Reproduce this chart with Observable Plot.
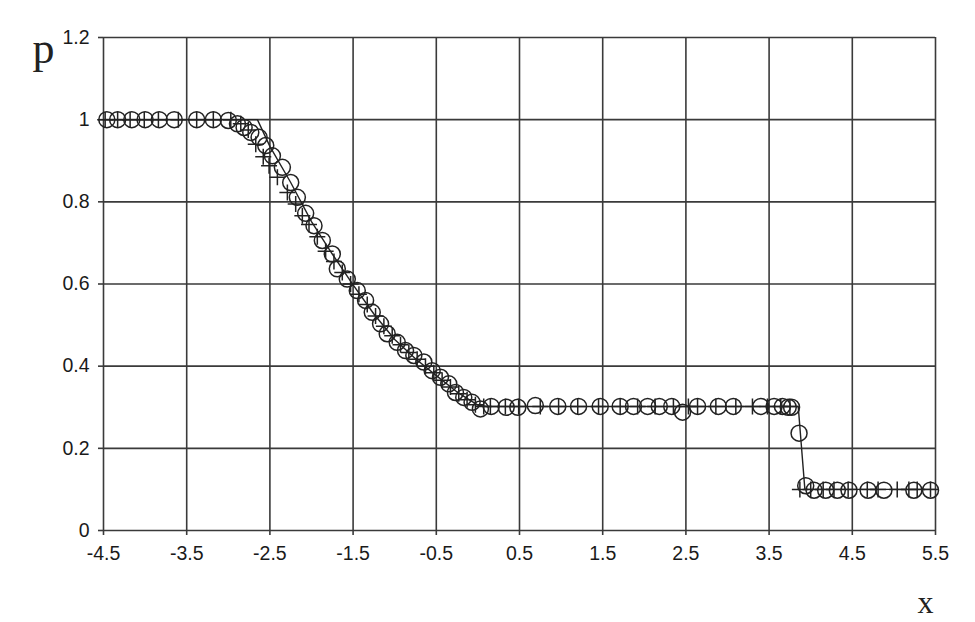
<!DOCTYPE html>
<html><head><meta charset="utf-8">
<script src="https://cdn.jsdelivr.net/npm/d3@7"></script>
<script src="https://cdn.jsdelivr.net/npm/@observablehq/plot@0.6"></script>
<style>
body{margin:0;background:#fff}
g[aria-label="x-axis tick label"], g[aria-label="y-axis tick label"],
g[aria-label="x-axis tick label"] text, g[aria-label="y-axis tick label"] text {
  font-size: 19.5px !important;
  font-family: 'Liberation Sans', Arial, sans-serif !important;
}
</style>
</head><body><div id="chart"></div>
<script>
const xTicks = [-4.5, -3.5, -2.5, -1.5, -0.5, 0.5, 1.5, 2.5, 3.5, 4.5, 5.5];
const yTicks = [0, 0.2, 0.4, 0.6, 0.8, 1, 1.2];

// exact solution (solid line)
const exactX = [-4.5, -2.65, -2.5, -2.25, -2.0, -1.75, -1.5, -1.25, -1.0, -0.75, -0.5, -0.25, 0.0, 0.1, 3.85, 3.93, 5.5];
const exactP = [1, 1, 0.935, 0.847, 0.752, 0.673, 0.598, 0.527, 0.465, 0.418, 0.377, 0.337, 0.305, 0.302, 0.302, 0.1, 0.1];

// numerical solution (circles)
const circleX = [-4.46, -4.33, -4.16, -4.0, -3.83, -3.65, -3.38, -3.18, -3.0, -2.89, -2.81, -2.73, -2.63, -2.55, -2.47, -2.35, -2.25, -2.17, -2.07, -1.97, -1.87, -1.75, -1.69, -1.57, -1.45, -1.35, -1.27, -1.17, -1.09, -0.97, -0.87, -0.77, -0.65, -0.55, -0.45, -0.35, -0.27, -0.17, -0.07, 0.03, 0.16, 0.34, 0.48, 0.69, 0.96, 1.21, 1.47, 1.71, 1.87, 2.04, 2.18, 2.33, 2.46, 2.64, 2.89, 3.07, 3.40, 3.56, 3.66, 3.73, 3.77, 3.86, 3.94, 4.04, 4.18, 4.32, 4.46, 4.69, 4.88, 5.24, 5.44];
const circleP = [1, 1, 1, 1, 1, 1, 1, 1, 0.998, 0.99, 0.981, 0.969, 0.957, 0.937, 0.912, 0.884, 0.847, 0.811, 0.772, 0.742, 0.706, 0.673, 0.637, 0.612, 0.584, 0.56, 0.531, 0.503, 0.479, 0.458, 0.438, 0.426, 0.41, 0.389, 0.373, 0.357, 0.336, 0.324, 0.312, 0.296, 0.302, 0.3, 0.3, 0.304, 0.302, 0.302, 0.302, 0.302, 0.302, 0.302, 0.302, 0.302, 0.288, 0.302, 0.302, 0.302, 0.302, 0.302, 0.302, 0.3, 0.3, 0.237, 0.109, 0.098, 0.098, 0.098, 0.098, 0.098, 0.098, 0.098, 0.098];

// numerical solution (plus markers)
const plusX = [-4.48, -4.33, -4.18, -4.01, -3.84, -3.60, -3.38, -3.18, -2.97, -2.85, -2.76, -2.67, -2.58, -2.51, -2.41, -2.29, -2.19, -2.11, -2.03, -1.93, -1.83, -1.73, -1.63, -1.53, -1.43, -1.33, -1.23, -1.13, -1.03, -0.93, -0.83, -0.73, -0.63, -0.53, -0.43, -0.33, -0.23, -0.13, -0.03, 0.07, 0.15, 0.33, 0.49, 0.75, 0.97, 1.20, 1.45, 1.71, 1.92, 2.13, 2.35, 2.53, 2.64, 2.86, 3.10, 3.30, 3.48, 3.64, 3.75, 3.87, 4.00, 4.15, 4.28, 4.45, 4.68, 4.81, 5.04, 5.18, 5.28, 5.44];
const plusP = [1, 1, 1, 1, 1, 1, 1, 1, 1, 0.99, 0.975, 0.94, 0.91, 0.888, 0.86, 0.823, 0.795, 0.766, 0.745, 0.715, 0.68, 0.655, 0.628, 0.6, 0.575, 0.55, 0.522, 0.497, 0.474, 0.452, 0.433, 0.417, 0.4, 0.384, 0.366, 0.349, 0.333, 0.318, 0.306, 0.302, 0.302, 0.302, 0.302, 0.302, 0.302, 0.302, 0.302, 0.302, 0.302, 0.302, 0.302, 0.302, 0.302, 0.302, 0.302, 0.302, 0.302, 0.302, 0.302, 0.1, 0.1, 0.1, 0.1, 0.1, 0.1, 0.1, 0.1, 0.1, 0.1, 0.1];

const exact = exactX.map((x, i) => ({x, p: exactP[i]}));
const circles = circleX.map((x, i) => ({x, p: circleP[i]}));
const pluses = plusX.map((x, i) => ({x, p: plusP[i]}));

const plusSymbol = {
  draw(ctx, size) {
    const r = Math.sqrt(size / Math.PI);
    ctx.moveTo(-r, 0); ctx.lineTo(r, 0);
    ctx.moveTo(0, -r); ctx.lineTo(0, r);
  }
};

const gridColor = "#3a3a3a";
const ink = "#222";
const tickFont = "'Liberation Sans', Arial, sans-serif";

const chart = Plot.plot({
  width: 975,
  height: 622,
  marginLeft: 103,
  marginRight: 40,
  marginTop: 37,
  marginBottom: 92,
  style: {fontFamily: tickFont, fontSize: "19px", color: "#1a1a1a", background: "#fff"},
  x: {domain: [-4.5, 5.5]},
  y: {domain: [0, 1.2]},
  marks: [
    Plot.ruleX(xTicks, {stroke: gridColor, strokeWidth: 1.6}),
    Plot.ruleY(yTicks, {stroke: gridColor, strokeWidth: 1.6}),
    Plot.axisX({ticks: xTicks, tickSize: 5, tickPadding: 11, tickFormat: d => String(d), label: null, stroke: gridColor, strokeWidth: 1.6}),
    Plot.axisY({ticks: yTicks, tickSize: 5, tickPadding: 9, tickFormat: d => String(d), label: null, stroke: gridColor, strokeWidth: 1.6}),
    Plot.line(exact, {x: "x", y: "p", stroke: ink, strokeWidth: 1.4}),
    Plot.dot(circles, {x: "x", y: "p", r: 8, stroke: ink, strokeWidth: 1.5, fill: "none"}),
    Plot.dot(pluses, {x: "x", y: "p", r: 8, symbol: plusSymbol, stroke: ink, strokeWidth: 1.5, fill: "none"}),
    Plot.text(["p"], {frameAnchor: "top-left", dx: -71, dy: 25, text: d => d, textAnchor: "start", lineAnchor: "bottom", fontSize: 44, fontFamily: "'Liberation Serif', 'Times New Roman', serif", fill: "#222"}),
    Plot.text(["x"], {frameAnchor: "bottom-right", dx: -18, dy: 82, text: d => d, textAnchor: "start", lineAnchor: "bottom", fontSize: 32, fontFamily: "'Liberation Serif', 'Times New Roman', serif", fill: "#222"})
  ]
});
document.getElementById("chart").appendChild(chart);
</script>
</body></html>
